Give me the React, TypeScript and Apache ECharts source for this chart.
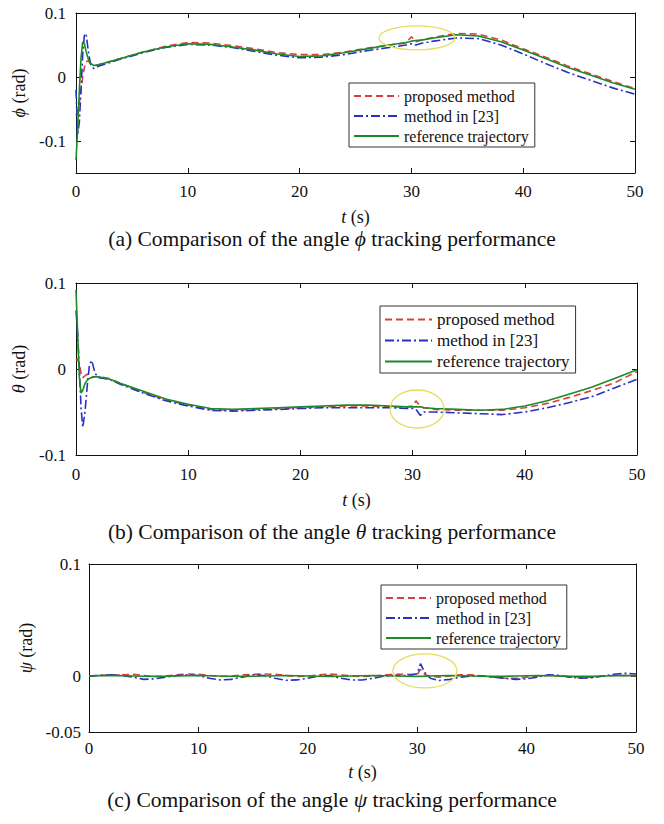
import { useEffect, useRef } from "react";
import * as echarts from "echarts";

// ---------- data ----------
const seriesNames = ["proposed method", "method in [23]", "reference trajectory"];
const xTicks = [0, 10, 20, 30, 40, 50];

// (a) phi
const tPhi = [0, 0.15, 0.3, 0.45, 0.6, 0.75, 0.9, 1.1, 1.3, 1.6, 2, 4, 6, 8, 10, 12, 14, 16, 18, 20, 22, 24, 26, 28, 29.5, 30, 30.4, 31, 32, 34, 36, 38, 40, 42, 44, 46, 48, 50];
const phiProposed = [-0.06, -0.055, -0.04, -0.02, 0.0, 0.015, 0.024, 0.025, 0.021, 0.018, 0.019, 0.029, 0.039, 0.048, 0.054, 0.053, 0.049, 0.044, 0.038, 0.035, 0.035, 0.039, 0.045, 0.05, 0.053, 0.063, 0.055, 0.058, 0.062, 0.068, 0.067, 0.058, 0.044, 0.031, 0.017, 0.005, -0.007, -0.018];
const phiM23 = [-0.02, -0.09, -0.07, -0.02, 0.035, 0.065, 0.068, 0.04, 0.02, 0.013, 0.017, 0.028, 0.038, 0.046, 0.051, 0.05, 0.046, 0.04, 0.034, 0.03, 0.031, 0.035, 0.041, 0.046, 0.05, 0.052, 0.05, 0.053, 0.056, 0.061, 0.06, 0.05, 0.036, 0.021, 0.007, -0.005, -0.017, -0.027];
const phiRef = [-0.13, -0.08, -0.02, 0.03, 0.055, 0.052, 0.04, 0.028, 0.021, 0.018, 0.019, 0.029, 0.039, 0.047, 0.052, 0.051, 0.047, 0.042, 0.036, 0.032, 0.033, 0.038, 0.044, 0.05, 0.054, 0.056, 0.057, 0.058, 0.061, 0.066, 0.064, 0.055, 0.042, 0.029, 0.015, 0.003, -0.009, -0.019];
const phiTicks = [-0.1, 0, 0.1];

// (b) theta
const tTheta = [0, 0.15, 0.3, 0.45, 0.6, 0.8, 1.0, 1.2, 1.4, 1.7, 2, 3, 4, 6, 8, 10, 12, 14, 16, 18, 20, 22, 24, 26, 28, 29.5, 30, 30.3, 30.7, 31, 32, 34, 36, 38, 40, 42, 44, 46, 48, 50];
const thetaProposed = [0.01, 0.012, 0.005, -0.005, -0.01, -0.008, -0.006, -0.008, -0.009, -0.009, -0.009, -0.011, -0.017, -0.027, -0.036, -0.042, -0.047, -0.048, -0.047, -0.046, -0.045, -0.044, -0.043, -0.043, -0.044, -0.044, -0.043, -0.037, -0.044, -0.045, -0.047, -0.048, -0.048, -0.048, -0.045, -0.04, -0.033, -0.025, -0.016, -0.003];
const thetaM23 = [0.068, 0.04, 0.0, -0.045, -0.068, -0.05, -0.02, 0.005, 0.01, -0.005, -0.01, -0.012, -0.018, -0.028, -0.037, -0.043, -0.048, -0.049, -0.048, -0.047, -0.046, -0.045, -0.045, -0.045, -0.045, -0.046, -0.046, -0.047, -0.054, -0.05, -0.05, -0.051, -0.052, -0.053, -0.05, -0.045, -0.039, -0.032, -0.022, -0.012];
const thetaRef = [0.092, 0.04, -0.01, -0.028, -0.025, -0.017, -0.013, -0.011, -0.01, -0.009, -0.009, -0.012, -0.017, -0.026, -0.035, -0.041, -0.046, -0.047, -0.046, -0.045, -0.044, -0.043, -0.042, -0.042, -0.043, -0.044, -0.044, -0.044, -0.044, -0.045, -0.046, -0.047, -0.048, -0.047, -0.043, -0.037, -0.029, -0.021, -0.011, -0.001];
const thetaTicks = [-0.1, 0, 0.1];

// (c) psi
const tPsi = [0, 1, 2, 3, 4, 5, 6, 7, 8, 9, 10, 11, 12, 13, 14, 15, 16, 17, 18, 19, 20, 21, 22, 23, 24, 25, 26, 27, 28, 29, 30, 30.3, 30.7, 31.2, 32, 33, 34, 35, 36, 37, 38, 39, 40, 41, 42, 43, 44, 45, 46, 47, 48, 49, 50];
const psiProposed = [0, 0.0005, 0.001, 0.001, 0.0015, 0.0005, -0.0005, 0, 0.001, 0.0018, 0.0015, 0.0005, -0.0005, 0, 0.001, 0.0015, 0.0018, 0.0015, 0.0005, -0.0005, 0, 0.001, 0.0018, 0.001, 0, -0.0005, 0, 0.001, 0.0015, 0.0015, 0.001, 0.006, 0.001, 0, -0.001, 0, 0.001, 0.001, 0, -0.001, -0.002, -0.002, -0.001, 0, 0.0005, 0, -0.001, -0.0015, -0.001, 0, 0.0005, 0.0005, 0];
const psiM23 = [0, 0.0005, 0.001, 0.0005, -0.001, -0.003, -0.0025, -0.001, 0.0005, 0.001, 0.0005, -0.002, -0.0035, -0.003, -0.001, 0.001, 0.0005, -0.002, -0.0038, -0.0035, -0.002, 0, 0.0005, -0.002, -0.0035, -0.0036, -0.002, 0, 0.0005, 0.0005, 0.002, 0.011, 0.003, -0.002, -0.004, -0.003, -0.001, 0, 0, -0.001, -0.002, -0.003, -0.0025, -0.001, 0.001, 0.0005, -0.001, -0.002, -0.0015, 0, 0.0015, 0.0024, 0.0018];
const psiRef = [0, 0.0003, 0.0003, 0.0002, 0, -0.0002, -0.0003, -0.0002, 0, 0.0002, 0.0003, 0.0002, 0, -0.0002, -0.0003, -0.0002, 0, 0.0002, 0.0003, 0.0002, 0, -0.0002, -0.0003, -0.0002, 0, 0.0002, 0.0003, 0.0002, 0, -0.0002, -0.0003, -0.0003, -0.0002, 0, 0.0002, 0.0003, 0.0002, 0, -0.0002, -0.0003, -0.0002, 0, 0.0002, 0.0003, 0.0002, 0, -0.0002, -0.0003, -0.0002, 0, 0.0002, 0.0003, 0.0002];
const psiTicks = [-0.05, 0, 0.1];

// highlighted regions (data coords of ellipse centres)
const ellipseT = [30.5, 30.4, 30.7];
const ellipseV = [0.061, -0.0465, 0.0045];

const captions = ["(a) Comparison of the angle {i|ϕ} tracking performance", "(b) Comparison of the angle {i|θ} tracking performance", "(c) Comparison of the angle {i|ψ} tracking performance"];
const yNames = ["{i|ϕ} (rad)", "{i|θ} (rad)", "{i|ψ} (rad)"];

const FONT = "Liberation Serif";

const zip = (t: number[], v: number[]) => t.map((x, i) => [x, v[i]]);

export default function App() {
  const ref = useRef<HTMLDivElement>(null);
  useEffect(() => {
    document.body.style.margin = "0";
    const chart = echarts.init(ref.current!, null, { renderer: "svg" });

    const panels = [
      { t: tPhi, data: [phiProposed, phiM23, phiRef], min: -0.15, max: 0.1, ticks: phiTicks },
      { t: tTheta, data: [thetaProposed, thetaM23, thetaRef], min: -0.1, max: 0.1, ticks: thetaTicks },
      { t: tPsi, data: [psiProposed, psiM23, psiRef], min: -0.05, max: 0.1, ticks: psiTicks },
    ];
    const layout = [
      { grid: { left: 76, top: 13, width: 559, height: 160 }, xMargin: 10, yMargin: 10, xGap: 35, yGap: 47, legend: { left: 349, top: 83 }, legendFont: 16, item: 45, cap: 223, rx: 38, ry: 12 },
      { grid: { left: 76, top: 283, width: 561, height: 172 }, xMargin: 11, yMargin: 10, xGap: 36, yGap: 44, legend: { left: 380, top: 306 }, legendFont: 17, item: 47, cap: 516, rx: 27, ry: 19 },
      { grid: { left: 89, top: 564, width: 547, height: 168 }, xMargin: 8, yMargin: 8, xGap: 31, yGap: 51, legend: { left: 381, top: 585 }, legendFont: 16, item: 45, cap: 784, rx: 32, ry: 17 },
    ];
    const colors = ["#d9403a", "#2a2fc4", "#1d8a2a"];
    const types: any[] = [[7, 4], [9, 3, 2, 3], "solid"];

    const axisLine = { show: true, onZero: false, lineStyle: { color: "#111", width: 1 } };
    const grid: any[] = [];
    const xAxis: any[] = [];
    const yAxis: any[] = [];
    const series: any[] = [];
    const legend: any[] = [];
    const title: any[] = [];

    panels.forEach((p, gi) => {
      const L = layout[gi];
      grid.push({ ...L.grid, show: false, containLabel: false });
      const fmt = (v: number) => String(Math.round(v * 1000) / 1000);
      const nameStyle = { color: "#111", fontFamily: FONT, fontSize: 18, rich: { i: { fontStyle: "italic", fontFamily: FONT, fontSize: 18, color: "#111" } } };
      xAxis.push({
        type: "value", gridIndex: gi, min: 0, max: 50, interval: 10, position: "bottom",
        axisLine, axisTick: { show: true, inside: true, length: 5, lineStyle: { color: "#111" } },
        splitLine: { show: false },
        axisLabel: { margin: L.xMargin, color: "#111", fontFamily: FONT, fontSize: 17, customValues: xTicks, formatter: fmt },
        name: "{i|t} (s)", nameLocation: "middle", nameGap: L.xGap, nameTextStyle: nameStyle,
      });
      xAxis.push({
        type: "value", gridIndex: gi, min: 0, max: 50, interval: 10, position: "top",
        axisLine, axisTick: { show: true, inside: true, length: 5, lineStyle: { color: "#111" } },
        splitLine: { show: false }, axisLabel: { show: false },
      });
      yAxis.push({
        type: "value", gridIndex: gi, min: p.min, max: p.max, position: "left",
        axisLine, axisTick: { show: true, inside: true, length: 5, customValues: p.ticks, lineStyle: { color: "#111" } },
        splitLine: { show: false },
        axisLabel: { margin: L.yMargin, color: "#111", fontFamily: FONT, fontSize: 17, customValues: p.ticks, formatter: fmt },
        name: yNames[gi], nameLocation: "middle", nameGap: L.yGap, nameRotate: 90, nameTextStyle: nameStyle,
      });
      yAxis.push({
        type: "value", gridIndex: gi, min: p.min, max: p.max, position: "right",
        axisLine, axisTick: { show: true, inside: true, length: 5, customValues: p.ticks, lineStyle: { color: "#111" } },
        splitLine: { show: false }, axisLabel: { show: false },
      });
      p.data.forEach((vals, si) => {
        series.push({
          type: "line", name: seriesNames[si], xAxisIndex: gi * 2, yAxisIndex: gi * 2,
          data: zip(p.t, vals), showSymbol: false, symbol: "none",
          lineStyle: { color: colors[si], width: 1.6, type: types[si] },
          itemStyle: { color: colors[si] }, z: 2 + si,
        });
      });
      legend.push({
        data: seriesNames, orient: "vertical", left: L.legend.left, top: L.legend.top,
        padding: [5, 6, 3, 4], itemGap: 4, itemWidth: L.item, itemHeight: 14,
        borderColor: "#333", borderWidth: 1, backgroundColor: "#fff",
        selectedMode: false, itemStyle: { opacity: 0 },
        textStyle: { fontFamily: FONT, fontSize: L.legendFont, color: "#111", lineHeight: 14 },
      });
      title.push({
        text: captions[gi], left: "center", top: L.cap,
        textStyle: { fontFamily: FONT, fontSize: 21.5, fontWeight: "normal", color: "#111", rich: { i: { fontStyle: "italic", fontFamily: FONT, fontSize: 21.5, color: "#111" } } },
      });
    });

    chart.setOption({ animation: false, backgroundColor: "#fff", grid, xAxis, yAxis, series, legend, title });

    const graphic = ellipseT.map((t, gi) => {
      const [cx, cy] = chart.convertToPixel({ gridIndex: gi } as any, [t, ellipseV[gi]]) as number[];
      return {
        type: "ellipse", shape: { cx, cy, rx: layout[gi].rx, ry: layout[gi].ry },
        style: { fill: "none", stroke: "#e6dc5a", lineWidth: 1.3 }, z: 10, silent: true,
      };
    });
    chart.setOption({ graphic });

    return () => chart.dispose();
  }, []);
  return <div ref={ref} style={{ width: 664, height: 824 }} />;
}
